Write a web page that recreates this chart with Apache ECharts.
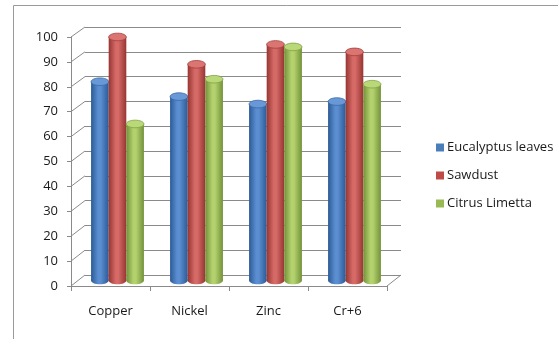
<!DOCTYPE html>
<html><head><meta charset="utf-8">
<script src="https://cdn.jsdelivr.net/npm/echarts@6/dist/echarts.min.js"></script>
<style>html,body{margin:0;padding:0;background:#fff}#c{width:558px;height:339px}</style>
</head><body><div id="c"></div>
<script>
const categories = ['Copper', 'Nickel', 'Zinc', 'Cr+6'];
const seriesNames = ['Eucalyptus leaves', 'Sawdust', 'Citrus Limetta'];
const eucalyptus = [80, 74, 71, 72];
const sawdust = [98, 87, 95, 92];
const citrus = [63, 81, 94, 79];
const yTicks = [0, 10, 20, 30, 40, 50, 60, 70, 80, 90, 100];

const seriesData = [eucalyptus, sawdust, citrus];
const palette = [
  {edge:'#2c5a95', mid:'#5a8ed1', top:'#6899d6', topEdge:'#3a69a6', legend:'#4a7ebb'},
  {edge:'#973532', mid:'#d56a67', top:'#db7572', topEdge:'#a33e3b', legend:'#be4b48'},
  {edge:'#73923a', mid:'#b3d16d', top:'#b9d877', topEdge:'#80a042', legend:'#98b954'}
];
const FONT = 'Open Sans';
const chart = echarts.init(document.getElementById('c'));

function cylSeries(k) {
  const p = palette[k];
  return {
    name: seriesNames[k], type: 'custom', xAxisIndex: 2, yAxisIndex: 2,
    itemStyle: {color: p.legend},
    data: seriesData[k].map((v, i) => [i, v]),
    renderItem: function (params, api) {
      const i = api.value(0), v = api.value(1);
      const top = api.coord([i, v]);
      const base = api.coord([i, 0]);
      const bw = api.size([1, 0])[0];
      const w = bw * 0.223;
      const cx = top[0] + (k - 1) * w;
      const x0 = cx - w / 2;
      const ry = 3.8;
      const grad = new echarts.graphic.LinearGradient(0, 0, 1, 0, [
        {offset: 0, color: p.edge}, {offset: 0.4, color: p.mid},
        {offset: 0.55, color: p.mid}, {offset: 1, color: p.edge}]);
      return {type: 'group', children: [
        {type: 'ellipse', shape: {cx: cx, cy: base[1], rx: w / 2, ry: ry}, style: {fill: grad}},
        {type: 'rect', shape: {x: x0, y: top[1], width: w, height: base[1] - top[1]}, style: {fill: grad}},
        {type: 'ellipse', shape: {cx: cx, cy: top[1], rx: w / 2, ry: ry},
          style: {fill: p.top, stroke: p.topEdge, lineWidth: 0.8}}
      ]};
    }
  };
}

const gridLine = '#8a8a8a';
chart.setOption({
  animation: false,
  textStyle: {fontFamily: FONT},
  grid: [
    {left: 85, top: 27, width: 316, height: 248},
    {left: 71, top: 37, width: 316, height: 249},
    {left: 78, top: 32, width: 316, height: 248.5}
  ],
  xAxis: [
    {gridIndex: 0, type: 'category', data: categories, show: false},
    {gridIndex: 1, type: 'category', data: categories,
      axisLine: {lineStyle: {color: gridLine}},
      axisTick: {show: true, length: 5, lineStyle: {color: gridLine}},
      axisLabel: {color: '#1a1a1a', fontSize: 13, fontFamily: FONT, margin: 19}},
    {gridIndex: 2, type: 'category', data: categories, show: false}
  ],
  yAxis: [
    {gridIndex: 0, type: 'value', min: 0, max: 100, interval: 10,
      axisLine: {show: false}, axisTick: {show: false}, axisLabel: {show: false},
      splitLine: {lineStyle: {color: gridLine, width: 1}}},
    {gridIndex: 1, type: 'value', min: 0, max: 100, interval: 10,
      axisLine: {show: true, lineStyle: {color: gridLine}},
      axisTick: {show: true, length: 4, lineStyle: {color: gridLine}},
      splitLine: {show: false},
      axisLabel: {color: '#1a1a1a', fontSize: 13, fontFamily: FONT, margin: 13,
        formatter: v => yTicks.includes(v) ? String(v) : ''}},
    {gridIndex: 2, type: 'value', min: 0, max: 100, show: false}
  ],
  legend: {
    orient: 'vertical', left: 431, top: 134, itemWidth: 8, itemHeight: 8, itemGap: 11,
    icon: 'rect', data: seriesNames,
    textStyle: {color: '#1a1a1a', fontSize: 13, fontFamily: FONT, lineHeight: 17, padding: [0, 0, 0, -2]}
  },
  series: [cylSeries(0), cylSeries(1), cylSeries(2)],
  graphic: []
});

// 3D depth lines linking the front axis to the back wall
const g = [];
const gr0 = chart.getModel().getComponent('grid', 0).coordinateSystem.getRect();
const gr1 = chart.getModel().getComponent('grid', 1).coordinateSystem.getRect();
yTicks.forEach(t => {
  const fy = chart.convertToPixel({yAxisIndex: 1}, t);
  const by = chart.convertToPixel({yAxisIndex: 0}, t);
  g.push({type: 'line', shape: {x1: gr1.x, y1: fy, x2: gr0.x, y2: by}, style: {stroke: gridLine, lineWidth: 1}});
});
const fy0 = chart.convertToPixel({yAxisIndex: 1}, 0);
const by0 = chart.convertToPixel({yAxisIndex: 0}, 0);
g.push({type: 'line', shape: {x1: gr1.x + gr1.width, y1: fy0, x2: gr0.x + gr0.width, y2: by0}, style: {stroke: gridLine, lineWidth: 1}});
g.push({type: 'rect', shape: {x: 13.5, y: 5.5, width: 560, height: 350}, style: {fill: 'none', stroke: '#9a9a9a', lineWidth: 1}, z: -1});
chart.setOption({graphic: g});
</script></body></html>
